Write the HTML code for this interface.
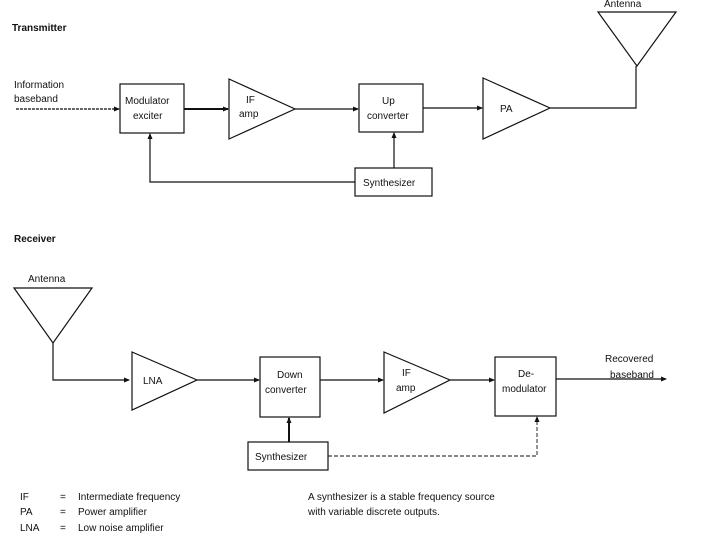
<!DOCTYPE html>
<html><head><meta charset="utf-8"><style>
html,body{margin:0;padding:0;background:#fff;width:720px;height:540px;overflow:hidden}
text{font-family:"Liberation Sans",Arial,sans-serif;font-size:10px;fill:#111}
</style></head><body>
<svg width="720" height="540" viewBox="0 0 720 540" xmlns="http://www.w3.org/2000/svg">
<defs><marker id="a" markerWidth="6" markerHeight="6" refX="5" refY="3" orient="auto" markerUnits="userSpaceOnUse"><path d="M0,0.5 L6,3 L0,5.5z" fill="#111"/></marker></defs>
<g stroke="#111" stroke-width="1.2" fill="none">
<!-- transmitter -->
<rect x="120" y="84" width="64" height="49"/>
<polygon points="229,79 295,109 229,139"/>
<rect x="359" y="84" width="64" height="48"/>
<polygon points="483,78 550,108 483,139"/>
<polygon points="598,12 676,12 637,66"/>
<polyline points="550,108 636,108 636,66"/>
<rect x="355" y="168" width="77" height="28"/>
<line x1="16" y1="109" x2="119" y2="109" stroke-dasharray="3,1" marker-end="url(#a)"/>
<line x1="184" y1="109" x2="228" y2="109" stroke-width="2" marker-end="url(#a)"/>
<line x1="295" y1="109" x2="358" y2="109" marker-end="url(#a)"/>
<line x1="423" y1="108" x2="482" y2="108" marker-end="url(#a)"/>
<line x1="394" y1="168" x2="394" y2="133" marker-end="url(#a)"/>
<polyline points="355,182 150,182 150,134" marker-end="url(#a)"/>
<!-- receiver -->
<polygon points="14,288 92,288 53,343"/>
<polyline points="53,343 53,380 129,380" marker-end="url(#a)"/>
<polygon points="132,352 197,380 132,410"/>
<rect x="260" y="357" width="60" height="60"/>
<polygon points="384,352 450,380 384,413"/>
<rect x="495" y="357" width="61" height="59"/>
<line x1="197" y1="380" x2="259" y2="380" marker-end="url(#a)"/>
<line x1="320" y1="380" x2="383" y2="380" marker-end="url(#a)"/>
<line x1="450" y1="380" x2="494" y2="380" marker-end="url(#a)"/>
<line x1="556" y1="379" x2="666" y2="379" marker-end="url(#a)"/>
<rect x="248" y="442" width="80" height="28"/>
<line x1="289" y1="442" x2="289" y2="418" stroke-width="2" marker-end="url(#a)"/>
<polyline points="328,456 537,456 537,417" stroke-dasharray="4,2" stroke-width="0.9" marker-end="url(#a)"/>
</g>
<text x="12" y="31" font-weight="bold">Transmitter</text>
<text x="604" y="7">Antenna</text>
<text x="14" y="88">Information</text>
<text x="14" y="102">baseband</text>
<text x="125" y="104">Modulator</text>
<text x="133" y="119">exciter</text>
<text x="246" y="103">IF</text>
<text x="239" y="117">amp</text>
<text x="382" y="104">Up</text>
<text x="367" y="119">converter</text>
<text x="500" y="112">PA</text>
<text x="363" y="186">Synthesizer</text>
<text x="14" y="242" font-weight="bold">Receiver</text>
<text x="28" y="282">Antenna</text>
<text x="143" y="384">LNA</text>
<text x="277" y="378">Down</text>
<text x="265" y="393">converter</text>
<text x="402" y="376">IF</text>
<text x="396" y="391">amp</text>
<text x="518" y="377">De-</text>
<text x="502" y="392">modulator</text>
<text x="605" y="362">Recovered</text>
<text x="610" y="378">baseband</text>
<text x="255" y="460">Synthesizer</text>
<text x="20" y="500">IF</text><text x="60" y="500">=</text><text x="78" y="500">Intermediate frequency</text>
<text x="20" y="515">PA</text><text x="60" y="515">=</text><text x="78" y="515">Power amplifier</text>
<text x="20" y="531">LNA</text><text x="60" y="531">=</text><text x="78" y="531">Low noise amplifier</text>
<text x="308" y="500">A synthesizer is a stable frequency source</text>
<text x="308" y="515">with variable discrete outputs.</text>
</svg>
</body></html>
